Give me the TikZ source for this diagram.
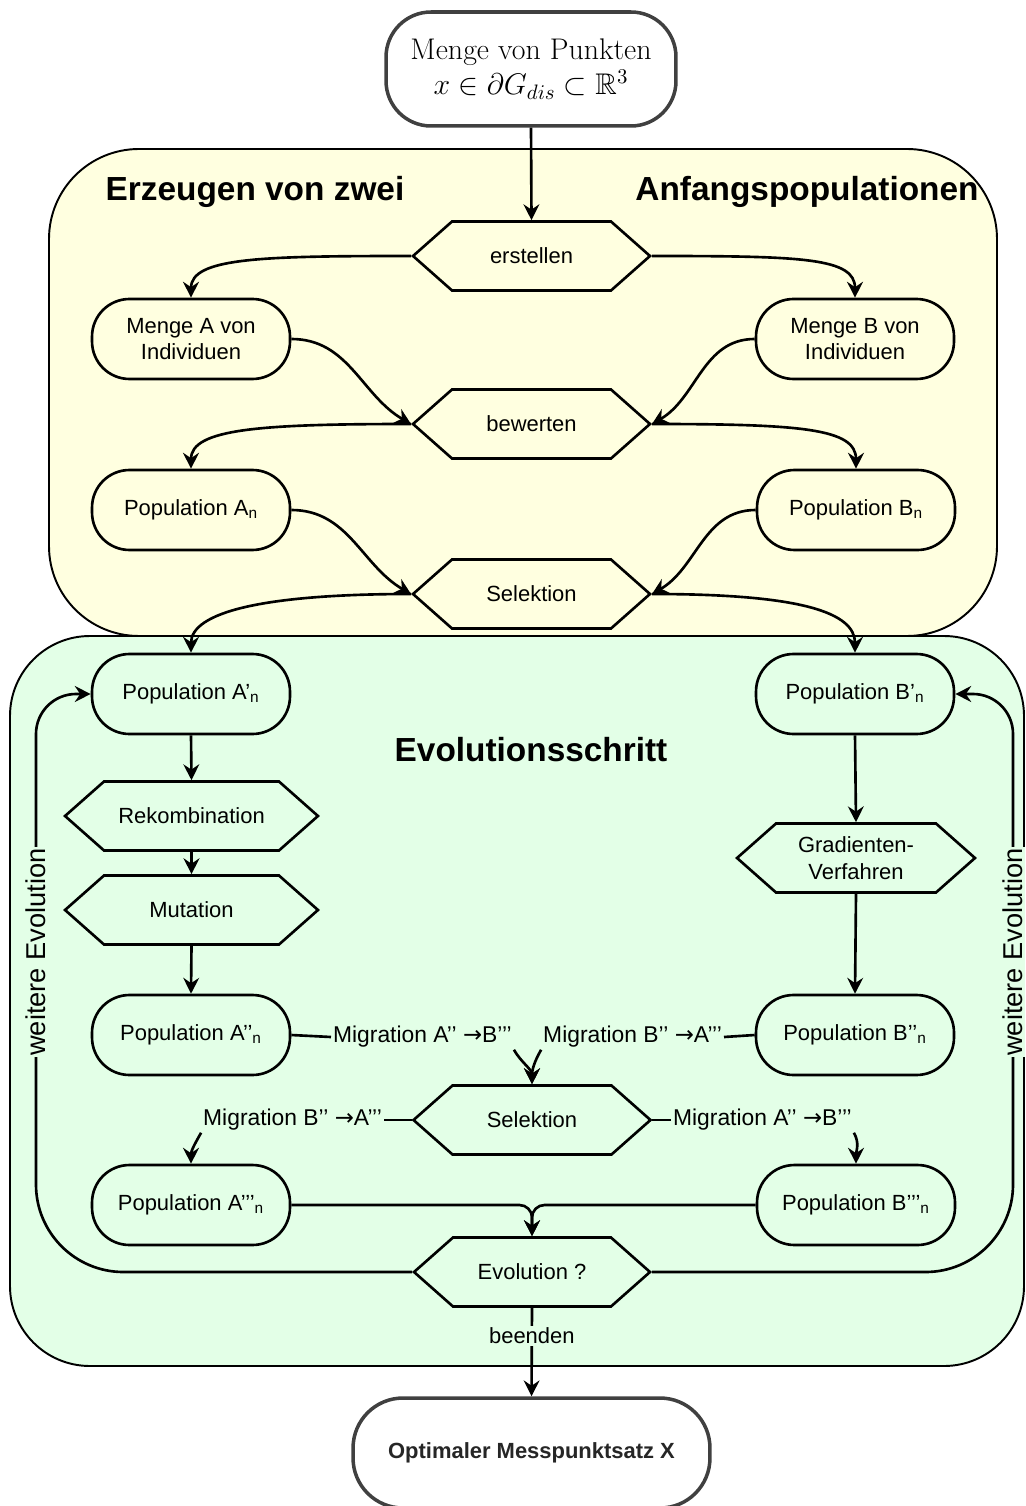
\RequirePackage{fix-cm}
\documentclass[tikz,border=0pt]{standalone}
\usepackage{amsmath}
\usepackage{amssymb}
\usepackage{fontspec}
\newfontfamily\arialfont{Liberation Sans}
\newfontfamily\symfont{DejaVu Sans}
\usepackage{tikz}
\usetikzlibrary{arrows.meta,shapes.symbols}
\definecolor{gelb}{RGB}{255,255,224}
\definecolor{gruen}{RGB}{227,255,231}
\newcommand{\pfeil}{{\symfont →}}
\newcommand{\schrift}{\arialfont\fontsize{12.5}{15}\selectfont}

\begin{document}
\begin{tikzpicture}[x=0.02cm,y=0.02cm,>={Stealth[length=9pt,width=9pt,inset=3pt]}]
\tikzstyle{box}=[rectangle,rounded corners=0.75cm,draw=black,line width=1.5pt,minimum width=3.96cm,minimum height=1.6cm,align=center,font=\schrift,inner sep=2pt]
\tikzstyle{hexa}=[signal,signal to=east and west,signal pointer angle=83,draw=black,line width=1.5pt,minimum width=4.74cm,minimum height=1.38cm,align=center,font=\schrift,inner sep=2pt]
\tikzstyle{term}=[rectangle,draw=black!75,line width=2pt,fill=white,align=center]
\tikzstyle{titel}=[font=\arialfont\bfseries\fontsize{19}{23}\selectfont]
\tikzstyle{lbl}=[font=\schrift,inner sep=1pt]
\tikzstyle{miglbl}=[font=\arialfont\fontsize{13}{15}\selectfont,inner sep=1pt]
\tikzstyle{pfeil}=[->,line width=1.5pt]
\tikzstyle{bogen}=[out distance=3cm,in distance=0.8cm]
\useasboundingbox (0,0) rectangle (1026,-1506);

\draw[fill=gelb,line width=1.1pt,rounded corners=1.8cm] (49,-149) rectangle (997,-636);
\draw[fill=gruen,line width=1.1pt,rounded corners=1.6cm] (10,-636) rectangle (1024,-1366);

\node[term,rounded corners=0.9cm,minimum width=5.8cm,minimum height=2.28cm,font=\fontsize{17}{20}\selectfont] (start) at (531,-69) {Menge von Punkten\\$x\in\partial G_{dis}\subset\mathbb{R}^3$};
\node[titel] (titel1) at (255,-192) {Erzeugen von zwei};
\node[titel] (titel2) at (807,-192) {Anfangspopulationen};
\node[hexa] (erstellen) at (531.5,-256) {erstellen};
\node[box] (mengeA) at (191,-339) {Menge A von\\Individuen};
\node[box] (mengeB) at (855,-339) {Menge B von\\Individuen};
\node[hexa] (bewerten) at (531.5,-424) {bewerten};
\node[box] (popA) at (191,-510) {Population A\textsubscript{n}};
\node[box] (popB) at (856,-510) {Population B\textsubscript{n}};
\node[hexa] (sel1) at (531.5,-594) {Selektion};

\node[box] (popA1) at (191,-694) {Population A’\textsubscript{n}};
\node[box] (popB1) at (855,-694) {Population B’\textsubscript{n}};
\node[titel] (titel3) at (531,-750) {Evolutionsschritt};
\node[hexa,minimum width=5.06cm] (rekomb) at (191.5,-816) {Rekombination};
\node[hexa,minimum width=5.06cm] (mutation) at (191.5,-910) {Mutation};
\node[hexa,minimum width=4.76cm] (gradient) at (856,-858) {Gradienten-\\Verfahren};
\node[box] (popA2) at (191,-1035) {Population A’’\textsubscript{n}};
\node[box] (popB2) at (855,-1035) {Population B’’\textsubscript{n}};
\node[hexa] (sel2) at (532,-1120) {Selektion};
\node[box] (popA3) at (191,-1205) {Population A’’’\textsubscript{n}};
\node[box] (popB3) at (856,-1205) {Population B’’’\textsubscript{n}};
\node[hexa,minimum width=4.72cm] (evo) at (532,-1272) {Evolution ?};
\node[term,rounded corners=1cm,minimum width=7.14cm,minimum height=2.2cm,font=\arialfont\bfseries\fontsize{12.5}{15}\selectfont,text=black!85] (ende) at (531.5,-1453) {Optimaler Messpunktsatz X};

\node[miglbl,anchor=west] (migAB) at (331,-1037) {Migration A’’ \pfeil B’’’};
\node[miglbl,anchor=east] (migBA) at (724,-1037) {Migration B’’ \pfeil A’’’};
\node[miglbl,anchor=east] (migBA2) at (384,-1120) {Migration B’’ \pfeil A’’’};
\node[miglbl,anchor=west] (migAB2) at (671,-1120) {Migration A’’ \pfeil B’’’};

\coordinate (lu) at (36,-1272);
\coordinate (lo) at (36,-694);
\coordinate (ru) at (1013,-1272);
\coordinate (ro) at (1013,-694);

\draw[pfeil] (start.south) -- (erstellen.north);
\draw[pfeil] (erstellen.west) to[out=180,in=90,bogen] (mengeA.north);
\draw[pfeil] (erstellen.east) to[out=0,in=90,bogen] (mengeB.north);
\draw[pfeil] (mengeA.east) to[out=0,in=150] (bewerten.west);
\draw[pfeil] (mengeB.west) to[out=180,in=30] (bewerten.east);
\draw[pfeil] (bewerten.west) to[out=180,in=90,bogen] (popA.north);
\draw[pfeil] (bewerten.east) to[out=0,in=90,bogen] (popB.north);
\draw[pfeil] (popA.east) to[out=0,in=150] (sel1.west);
\draw[pfeil] (popB.west) to[out=180,in=30] (sel1.east);
\draw[pfeil] (sel1.west) to[out=180,in=90,bogen] (popA1.north);
\draw[pfeil] (sel1.east) to[out=0,in=90,bogen] (popB1.north);

\draw[pfeil] (popA1.south) -- (rekomb.north);
\draw[pfeil] (rekomb.south) -- (mutation.north);
\draw[pfeil] (mutation.south) -- (popA2.north);
\draw[pfeil] (popB1.south) -- (gradient.north);
\draw[pfeil] (gradient.south) -- (popB2.north);

\draw[line width=1.5pt] (popA2.east) -- (migAB.west);
\draw[line width=1.5pt] (popB2.west) -- (migBA.east);
\draw[pfeil] (migAB.south east) to[out=-60,in=90] (sel2.north);
\draw[pfeil] (migBA.south west) to[out=-120,in=90] (sel2.north);
\draw[line width=1.5pt] (sel2.west) -- (migBA2.east);
\draw[line width=1.5pt] (sel2.east) -- (migAB2.west);
\draw[pfeil] (migBA2.south west) to[out=-120,in=90] (popA3.north);
\draw[pfeil] (migAB2.south east) to[out=-60,in=90] (popB3.north);

\draw[pfeil,rounded corners=0.25cm] (popA3.east) -| (evo.north);
\draw[pfeil,rounded corners=0.25cm] (popB3.west) -| (evo.north);

\draw[pfeil,rounded corners=1.75cm] (evo.west) -- (lu) [rounded corners=0.8cm] -- (lo) -- (popA1.west);
\draw[pfeil,rounded corners=1.75cm] (evo.east) -- (ru) [rounded corners=0.8cm] -- (ro) -- (popB1.east);
\node[lbl,rotate=90,fill=gruen,font=\arialfont\fontsize{15.5}{18}\selectfont] (weiterL) at (36,-952) {weitere Evolution};
\node[lbl,rotate=90,fill=gruen,font=\arialfont\fontsize{15.5}{18}\selectfont] (weiterR) at (1013,-952) {weitere Evolution};

\draw[pfeil] (evo.south) -- node[lbl,fill=gruen,pos=0.32] (beenden) {beenden} (ende.north);
\end{tikzpicture}
\end{document}
